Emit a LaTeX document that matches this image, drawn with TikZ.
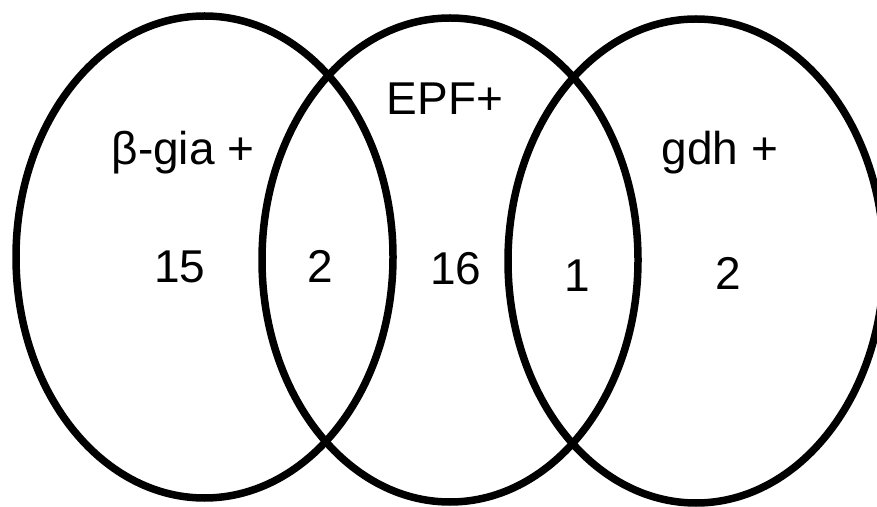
\documentclass[tikz,border=0pt]{standalone}
\usepackage{fontspec}
\setmainfont{Liberation Sans}
\begin{document}
\begin{tikzpicture}[x=1pt,y=1pt,
  setline/.style={line width=7.5pt, draw=black},
  lbl/.style={font=\fontsize{46}{50}\selectfont, anchor=base, inner sep=0pt}]
\useasboundingbox (0,0) rectangle (877,506);
\fill[white] (0,0) rectangle (877,506);
\begin{scope}
\clip (0,0) rectangle (877,506);
\draw[setline] (204.5,249) ellipse [x radius=188.5, y radius=241];
\draw[setline] (450,246) ellipse [x radius=188, y radius=242];
\draw[setline] (696,245) ellipse [x radius=188, y radius=242];
\end{scope}
\node[lbl] (tA) at (183,341) {β-gia +};
\node[lbl] (tB) at (445,391) {EPF+};
\node[lbl] (tC) at (720,341) {gdh +};
\node[lbl] (n1) at (180,223) {15};
\node[lbl] (n2) at (320,223) {2};
\node[lbl] (n3) at (456,221) {16};
\node[lbl] (n4) at (577,214) {1};
\node[lbl] (n5) at (728,216) {2};
\end{tikzpicture}
\end{document}
